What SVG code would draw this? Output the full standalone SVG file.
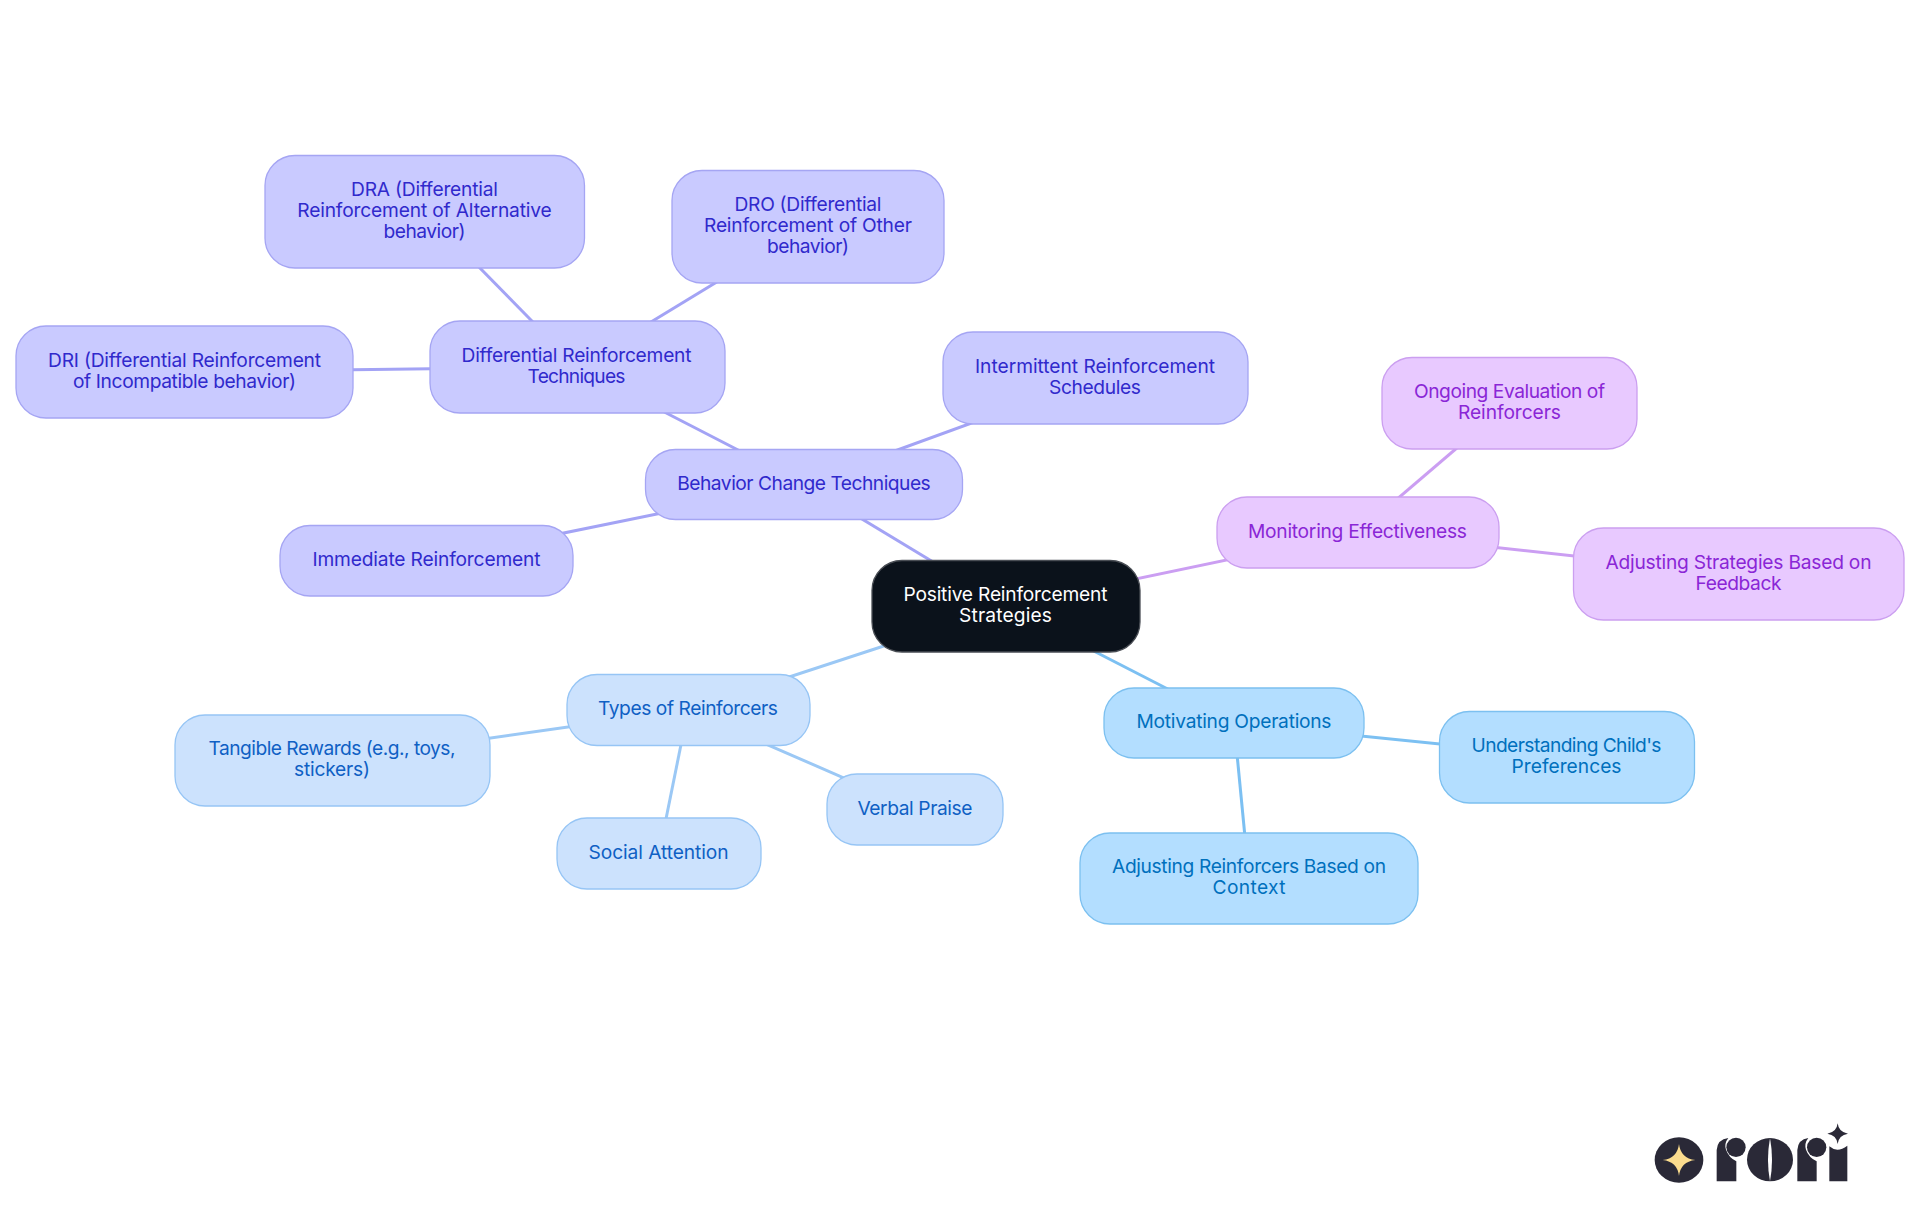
<svg xmlns="http://www.w3.org/2000/svg" width="1920" height="1215" viewBox="0 0 1920 1215">
<style>
text{font-family:"Inter","Noto Sans","Liberation Sans",sans-serif;font-size:19.2px;font-weight:370;text-anchor:middle}
rect{stroke-width:1.3}
.e{fill:none;stroke-width:3}
.r rect{fill:#0b121b;stroke:#4a4e55}.r text{fill:#fff}
.p rect{fill:#c9caff;stroke:#a5a5f3}.p text{fill:#3029cc}
.b rect{fill:#cce2fd;stroke:#96c5f5}.b text{fill:#0f60c4}
.s rect{fill:#b3deff;stroke:#7cc0f0}.s text{fill:#0070bd}
.v rect{fill:#e8c9ff;stroke:#cb9ff0}.v text{fill:#8a26d6}
.ep{stroke:#a3a3f5}.eb{stroke:#9bc8f5}.es{stroke:#7cc0f2}.ev{stroke:#cb9ef2}
</style>
<g id="connectors">
<path class="e ep" d="M1006 606L804 484"/>
<path class="e ep" d="M804 484L577 367"/>
<path class="e ep" d="M577 367L424.500 211.500"/>
<path class="e ep" d="M577 367L808 226.500"/>
<path class="e ep" d="M577 367L184.500 372"/>
<path class="e ep" d="M804 484L1095 378"/>
<path class="e ep" d="M804 484L426.500 561"/>
<path class="e eb" d="M1006 606L688 710"/>
<path class="e eb" d="M688 710L332.500 760.500"/>
<path class="e eb" d="M688 710L659 853.500"/>
<path class="e eb" d="M688 710L915 809"/>
<path class="e es" d="M1006 606L1234 723"/>
<path class="e es" d="M1234 723L1567 757"/>
<path class="e es" d="M1234 723L1249 878.500"/>
<path class="e ev" d="M1006 606L1358 532.500"/>
<path class="e ev" d="M1358 532.500L1509.500 403"/>
<path class="e ev" d="M1358 532.500L1738.500 574"/>
</g>
<g id="root" class="r"><rect x="872" y="560.500" width="268" height="91.500" rx="30"/>
<text x="1005.500" y="601" textLength="204">Positive Reinforcement</text><text x="1005.500" y="622" textLength="93">Strategies</text></g>
<g id="behavior" class="p"><rect x="645.500" y="449.500" width="317" height="70" rx="30"/>
<text x="804" y="490" textLength="253.500">Behavior Change Techniques</text></g>
<g id="differential" class="p"><rect x="430" y="321" width="295" height="92" rx="30"/>
<text x="576.500" y="362" textLength="230">Differential Reinforcement</text><text x="576.500" y="383" textLength="98">Techniques</text></g>
<g id="dra" class="p"><rect x="265" y="155.500" width="319.500" height="112.500" rx="30"/>
<text x="424.500" y="196" textLength="147">DRA (Differential</text><text x="424.500" y="217" textLength="254.500">Reinforcement of Alternative</text><text x="424.500" y="238" textLength="82">behavior)</text></g>
<g id="dro" class="p"><rect x="672" y="170.500" width="272" height="112.500" rx="30"/>
<text x="808" y="211" textLength="147">DRO (Differential</text><text x="808" y="232" textLength="208">Reinforcement of Other</text><text x="808" y="253" textLength="82">behavior)</text></g>
<g id="dri" class="p"><rect x="16" y="326" width="337" height="92" rx="30"/>
<text x="184.500" y="367" textLength="273">DRI (Differential Reinforcement</text><text x="184.500" y="388" textLength="223">of Incompatible behavior)</text></g>
<g id="intermittent" class="p"><rect x="943" y="332" width="305" height="92" rx="30"/>
<text x="1095" y="373" textLength="240">Intermittent Reinforcement</text><text x="1095" y="394" textLength="92">Schedules</text></g>
<g id="immediate" class="p"><rect x="280" y="525.500" width="293" height="70.500" rx="30"/>
<text x="426.500" y="566" textLength="228">Immediate Reinforcement</text></g>
<g id="types" class="b"><rect x="567" y="674.500" width="243" height="71" rx="30"/>
<text x="688" y="715" textLength="180">Types of Reinforcers</text></g>
<g id="tangible" class="b"><rect x="175" y="715" width="315" height="91" rx="30"/>
<text x="332" y="754.500" textLength="247">Tangible Rewards (e.g., toys,</text><text x="332" y="775.500" textLength="76">stickers)</text></g>
<g id="social" class="b"><rect x="557" y="818" width="204" height="71" rx="30"/>
<text x="658.500" y="859" textLength="140">Social Attention</text></g>
<g id="verbal" class="b"><rect x="827" y="774" width="176" height="71" rx="30"/>
<text x="915" y="815" textLength="115">Verbal Praise</text></g>
<g id="motivating" class="s"><rect x="1104" y="688" width="260" height="70" rx="30"/>
<text x="1234" y="728" textLength="195">Motivating Operations</text></g>
<g id="understanding" class="s"><rect x="1439.500" y="711.500" width="255" height="91.500" rx="30"/>
<text x="1566.500" y="752" textLength="190">Understanding Child's</text><text x="1566.500" y="773" textLength="110">Preferences</text></g>
<g id="adjusting-reinforcers" class="s"><rect x="1080" y="833" width="338" height="91" rx="30"/>
<text x="1249" y="872.500" textLength="274">Adjusting Reinforcers Based on</text><text x="1249" y="893.500" textLength="73">Context</text></g>
<g id="monitoring" class="v"><rect x="1217" y="497" width="282" height="71" rx="30"/>
<text x="1357.500" y="538" textLength="219">Monitoring Effectiveness</text></g>
<g id="ongoing" class="v"><rect x="1382" y="357.500" width="255" height="91.500" rx="30"/>
<text x="1509.500" y="398" textLength="191">Ongoing Evaluation of</text><text x="1509.500" y="419" textLength="103">Reinforcers</text></g>
<g id="adjusting-strategies" class="v"><rect x="1573.500" y="528" width="330.500" height="92" rx="30"/>
<text x="1738.500" y="569" textLength="266">Adjusting Strategies Based on</text><text x="1738.500" y="590" textLength="86">Feedback</text></g>
<g id="logo" transform="translate(1620 1100) scale(.33333)">
<ellipse cx="177" cy="180" rx="73" ry="68" fill="#2a2937"/>
<path d="M177 132Q182 175 226 180Q182 185 177 228Q172 185 128 180Q172 175 177 132Z" fill="#fbdc8e"/>
<g fill="#2a2937">
<path d="M290 244V150Q292 118 325 114Q312 130 318 149Q326 172 349 184V244Z"/><circle cx="348" cy="142" r="29"/>
<ellipse cx="450" cy="179" rx="69" ry="65"/>
<path d="M532 244V150Q534 118 565 114Q552 130 558 149Q566 172 590 184V244Z"/><circle cx="590" cy="142" r="29"/>
<path d="M628 139Q652 160 682 137V244H628Z"/>
<path d="M653 70Q656 97 684 101Q656 105 653 132Q650 105 622 101Q650 97 653 70Z"/>
</g><path d="M450 114Q438 179 450 244Q462 179 450 114Z" fill="#fff"/></g>
</svg>
